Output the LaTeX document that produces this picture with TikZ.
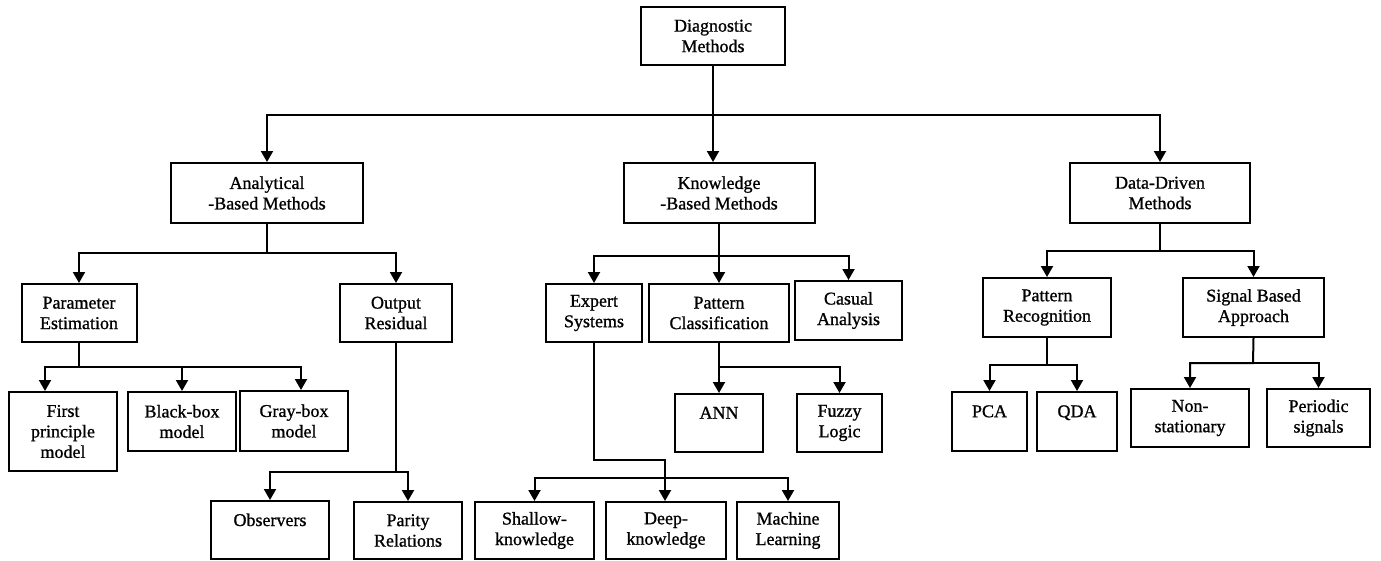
\documentclass[tikz,border=0pt]{standalone}
\usepackage{fontspec}
\setmainfont{Liberation Serif}
\newfontfamily\diagfont[FakeBold=1]{Liberation Serif}
\usetikzlibrary{arrows.meta}

\tikzset{
    box/.style={draw, line width=2pt, align=center, inner sep=0pt,
        font=\diagfont\fontsize{18}{20.5}\selectfont},
    arr/.style={line width=2pt, -{Triangle[width=12pt,length=11pt]}}
}

\begin{document}
\begin{tikzpicture}[x=1pt, y=-1pt]

    \useasboundingbox (0,0) rectangle (1381,560);

% root
    \node[box, minimum width=144pt, minimum height=58pt] (diag) at (713,36) {Diagnostic\\Methods};

% first level
    \node[box, minimum width=192pt, minimum height=60pt] (ana) at (267,193) {Analytical\\-Based Methods};
    \node[box, minimum width=191pt, minimum height=60pt] (know) at (719,193) {Knowledge\\-Based Methods};
    \node[box, minimum width=180pt, minimum height=60pt] (data) at (1160,193) {Data-Driven\\Methods};

% second level
    \node[box, minimum width=115pt, minimum height=58pt] (par) at (79,313) {Parameter\\Estimation};
    \node[box, minimum width=112pt, minimum height=58pt] (out) at (396,313) {Output\\Residual};
    \node[box, minimum width=96pt, minimum height=58pt] (exp) at (594,313) {Expert\\Systems};
    \node[box, minimum width=140pt, minimum height=58pt] (pcl) at (719,313) {Pattern\\Classification};
    \node[box, minimum width=107pt, minimum height=59pt] (cas) at (848.5,310.5) {Casual\\Analysis};
    \node[box, minimum width=128pt, minimum height=59pt] (prec) at (1047,307.5) {Pattern\\Recognition};
    \node[box, minimum width=141pt, minimum height=59pt] (sig) at (1253.5,307.5) {Signal Based\\Approach};

% third level
    \node[box, minimum width=108pt, minimum height=79pt] (fp) at (63,431.5) {First\\principle\\model};
    \node[box, minimum width=108pt, minimum height=59pt] (bb) at (182,421.5) {Black-box\\model};
    \node[box, minimum width=108pt, minimum height=60pt] (gb) at (294,421) {Gray-box\\model};
    \node[box, minimum width=88pt, minimum height=58pt] (ann) at (719,423) {ANN\\\mbox{}};
    \node[box, minimum width=85pt, minimum height=58pt] (fuz) at (839.5,423) {Fuzzy\\Logic};
    \node[box, minimum width=75pt, minimum height=59pt] (pca) at (989.5,421.5) {PCA\\\mbox{}};
    \node[box, minimum width=80pt, minimum height=59pt] (qda) at (1077,421.5) {QDA\\\mbox{}};
    \node[box, minimum width=118pt, minimum height=58pt] (non) at (1190,418) {Non-\\stationary};
    \node[box, minimum width=103pt, minimum height=58pt] (per) at (1318.5,418) {Periodic\\signals};

% bottom level
    \node[box, minimum width=118pt, minimum height=58pt] (obs) at (270,530) {Observers\\\mbox{}};
    \node[box, minimum width=108pt, minimum height=57pt] (parrel) at (408,530.5) {Parity\\Relations};
    \node[box, minimum width=119pt, minimum height=57pt] (shal) at (534.5,530.5) {Shallow-\\knowledge};
    \node[box, minimum width=120pt, minimum height=57pt] (deep) at (666,530.5) {Deep-\\knowledge};
    \node[box, minimum width=102pt, minimum height=57pt] (mach) at (788,530.5) {Machine\\Learning};

% bus points
    \coordinate (top bus) at (713,115);
    \coordinate (ana bus) at (267,253);
    \coordinate (know bus) at (719,256);
    \coordinate (data bus) at (1160,251);
    \coordinate (par bus) at (79,367);
    \coordinate (out bus) at (396,472);
    \coordinate (pcl bus) at (719,367);
    \coordinate (exp bend) at (665,460);
    \coordinate (exp bus) at (665,478);
    \coordinate (prec bus) at (1047,365);
    \coordinate (sig bus) at (1253,363);

% root to first level
    \draw[arr] (diag.south) -- (top bus) -| (ana.north);
    \draw[arr] (top bus) -| (data.north);
    \draw[arr] (diag.south) -- (diag.south |- know.north);

% analytical branch
    \draw[arr] (ana.south) -- (ana bus) -| (par.north);
    \draw[arr] (ana bus) -| (out.north);
    \draw[arr] (par.south) -- (par bus) -| ([xshift=-18pt]fp.north);
    \draw[arr] (par bus) -| (bb.north);
    \draw[arr] (par bus) -| ([xshift=7pt]gb.north);
    \draw[arr] (out.south) -- (out bus) -| (obs.north);
    \draw[arr] (out bus) -| (parrel.north);

% knowledge branch
    \draw[arr] (know.south) -- (know bus) -| (exp.north);
    \draw[arr] (know bus) -- (pcl.north);
    \draw[arr] (know bus) -| (cas.north);
    \draw[arr] (pcl.south) -- (pcl bus) -- (ann.north);
    \draw[arr] (pcl bus) -| (fuz.north);
    \draw[arr] (exp.south) |- (exp bend) -- (exp bend |- deep.north);
    \draw[arr] (exp bus) -| (shal.north);
    \draw[arr] (exp bus) -| (mach.north);

% data-driven branch
    \draw[arr] (data.south) -- (data bus) -| (prec.north);
    \draw[arr] (data bus) -| (sig.north);
    \draw[arr] (prec.south) -- (prec bus) -| (pca.north);
    \draw[arr] (prec bus) -| (qda.north);
    \draw[arr] (sig.south) -- (sig bus) -| (non.north);
    \draw[arr] (sig bus) -| (per.north);

\end{tikzpicture}
\end{document}
